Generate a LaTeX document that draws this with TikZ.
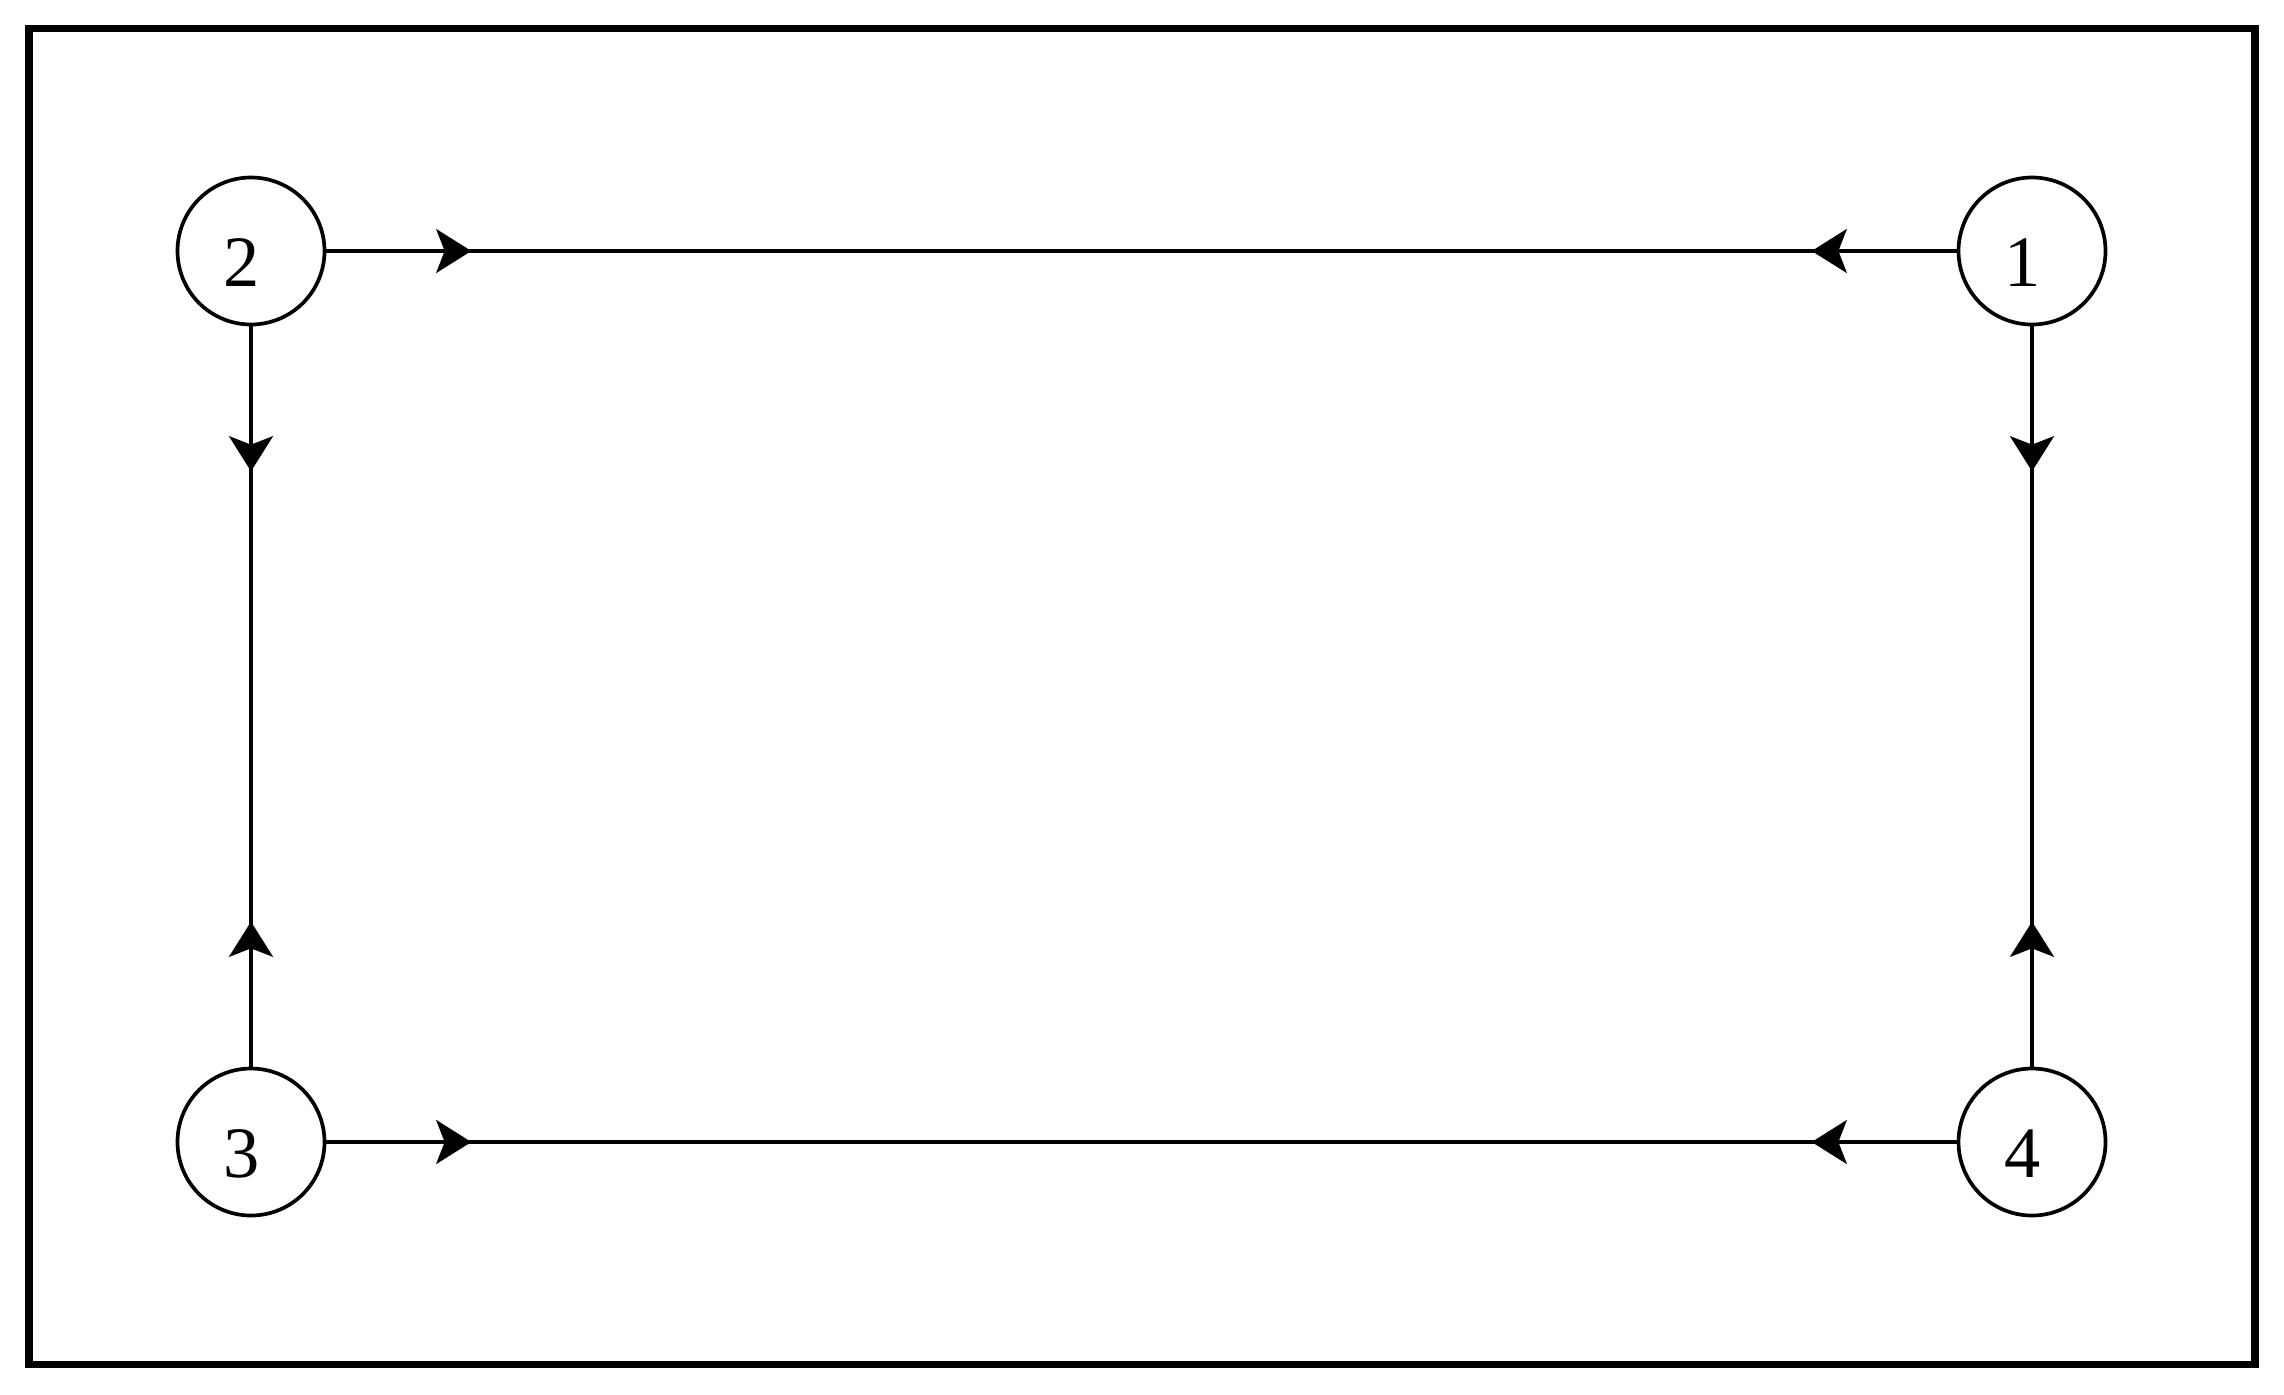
\documentclass[tikz,border=0pt]{standalone}
\usepackage{fontspec}
\setmainfont{Liberation Serif}
\usetikzlibrary{arrows.meta,decorations.markings}

\tikzset{
  state/.style={circle, draw, line width=1.05pt, minimum size=1.47cm, inner sep=0pt,
    text height=0.7cm, text depth=0pt, font=\fontsize{20.6}{24}\selectfont,
    execute at end node={\hspace{0.19cm}}},
  link/.style={line width=1.05pt, postaction={decorate}, decoration={markings,
    mark=at position 1.45cm with {\arrow{Stealth[length=10pt,width=12.5pt,inset=2.4pt]}},
    mark=at position -1.45cm with {\arrowreversed{Stealth[length=10pt,width=12.5pt,inset=2.4pt]}}}}
}

\begin{document}
\begin{tikzpicture}
                  \useasboundingbox (0,0) rectangle (22.84,-13.94);
                  \draw[line width=2.1pt] (0.29,-0.285) rectangle (22.55,-13.645);
                  \node[state] (s2) at (2.51,-2.51) {2};
                  \node[state] (s1) at (20.32,-2.51) {1};
                  \node[state] (s3) at (2.51,-11.42) {3};
                  \node[state] (s4) at (20.32,-11.42) {4};
                  \draw[link] (s2) -- (s1);
                  \draw[link] (s3) -- (s4);
                  \draw[link] (s2) -- (s3);
                  \draw[link] (s1) -- (s4);
                \end{tikzpicture}
\end{document}
